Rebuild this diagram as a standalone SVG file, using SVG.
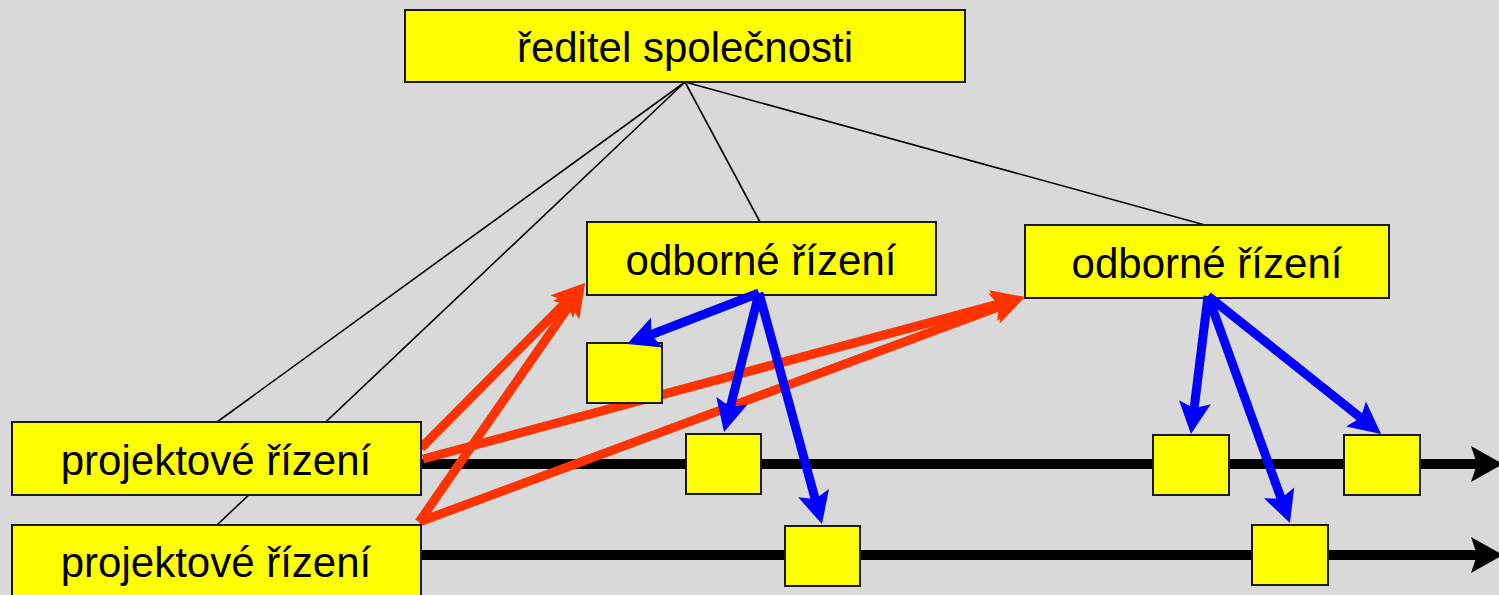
<svg xmlns="http://www.w3.org/2000/svg" width="1499" height="595" viewBox="0 0 1499 595">
<style>
.box{fill:#ffff00;stroke:#1a1a1a;stroke-width:2}
.lbl{font-family:"Liberation Sans",Arial,sans-serif;font-size:42px;fill:#000;text-anchor:middle}
.thin{stroke:#000;stroke-width:1.6;fill:none}
.time{stroke:#000;stroke-width:10;fill:none}
.red{stroke:#ff3300;stroke-width:9;fill:none}
.blue{stroke:#0000ff;stroke-width:9;fill:none}
</style>
<defs>
<marker id="hb" markerUnits="userSpaceOnUse" orient="auto" refX="0" refY="0" overflow="visible" markerWidth="10" markerHeight="10">
<path d="M20,0 L-12,-16 L-6,0 L-12,16 Z" fill="#0000ff"/>
</marker>
<marker id="hr" markerUnits="userSpaceOnUse" orient="auto" refX="0" refY="0" overflow="visible" markerWidth="10" markerHeight="10">
<path d="M20,0 L-13,-16 L-7,0 L-13,16 Z" fill="#ff3300"/>
</marker>
<marker id="hk" markerUnits="userSpaceOnUse" orient="auto" refX="0" refY="0" overflow="visible" markerWidth="10" markerHeight="10">
<path d="M22,0 L-10,-18 L-4,0 L-10,18 Z" fill="#000"/>
</marker>
</defs>
<rect width="1499" height="595" fill="#d9d9d9"/>
<g id="connectors">
<line class="thin" x1="685" y1="82" x2="217" y2="422"/>
<line class="thin" x1="685" y1="82" x2="217" y2="525"/>
<line class="thin" x1="685" y1="82" x2="760" y2="222"/>
<line class="thin" x1="685" y1="82" x2="1205" y2="225"/>
<line class="time" x1="420" y1="464" x2="1481" y2="464" marker-end="url(#hk)"/>
<line class="time" x1="420" y1="555" x2="1481" y2="555" marker-end="url(#hk)"/>
<line class="red" x1="421" y1="448" x2="570.9" y2="297.2" marker-end="url(#hr)"/>
<line class="red" x1="419" y1="522" x2="573.6" y2="299.4" marker-end="url(#hr)"/>
<line class="red" x1="423" y1="459" x2="1005.7" y2="302.2" marker-end="url(#hr)"/>
<line class="red" x1="419" y1="522" x2="1006.3" y2="304" marker-end="url(#hr)"/>
</g>
<g id="reditel"><rect class="box" x="405" y="10" width="560" height="72"/><text class="lbl" x="685" y="62">ředitel společnosti</text></g>
<g id="projekt1"><rect class="box" x="12" y="422" width="409" height="73"/><text class="lbl" x="216" y="475">projektové řízení</text></g>
<g id="projekt2"><rect class="box" x="12" y="525" width="409" height="80"/><text class="lbl" x="216" y="577">projektové řízení</text></g>
<g id="odborne1"><rect class="box" x="587" y="222" width="349" height="73"/><text class="lbl" x="761" y="275">odborné řízení</text></g>
<g id="odborne2"><rect class="box" x="1025" y="225" width="364" height="73"/><text class="lbl" x="1207" y="278">odborné řízení</text></g>
<g id="task1"><rect class="box" x="587" y="343" width="75" height="60"/></g>
<g id="task2"><rect class="box" x="686" y="434" width="75" height="60"/></g>
<g id="task3"><rect class="box" x="785" y="526" width="75" height="60"/></g>
<g id="task4"><rect class="box" x="1153" y="435" width="76" height="60"/></g>
<g id="task5"><rect class="box" x="1344" y="435" width="76" height="60"/></g>
<g id="task6"><rect class="box" x="1252" y="525" width="76" height="60"/></g>
<g id="blue-connectors">
<line class="blue" x1="759" y1="293" x2="645.7" y2="336.8" marker-end="url(#hb)"/>
<line class="blue" x1="759" y1="293" x2="728.9" y2="412.6" marker-end="url(#hb)"/>
<line class="blue" x1="759" y1="293" x2="816.7" y2="504.7" marker-end="url(#hb)"/>
<line class="blue" x1="1208" y1="296" x2="1193.4" y2="414.1" marker-end="url(#hb)"/>
<line class="blue" x1="1208" y1="296" x2="1283.2" y2="504.2" marker-end="url(#hb)"/>
<line class="blue" x1="1208" y1="296" x2="1365.4" y2="421.5" marker-end="url(#hb)"/>
</g>
</svg>
